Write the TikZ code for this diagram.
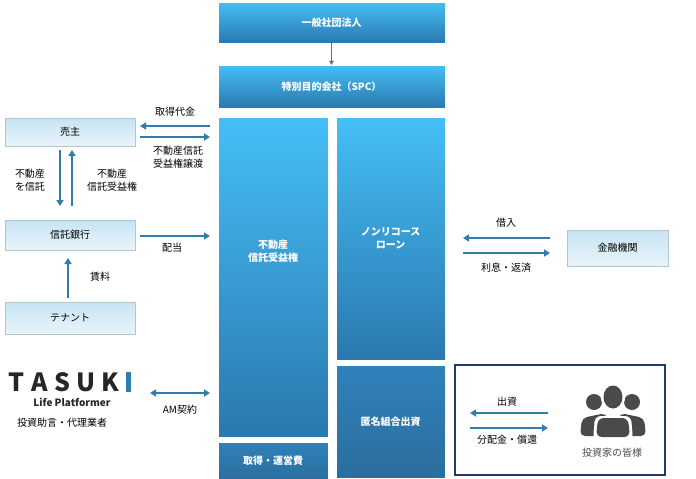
\documentclass[tikz,border=0pt]{standalone}
\usepackage{fontspec}
\setmainfont{Noto Sans CJK JP}
\usetikzlibrary{arrows.meta}
\definecolor{topb}{HTML}{45BFF6}
\definecolor{botb}{HTML}{2A78AE}
\definecolor{darkb}{HTML}{2B6E9E}
\definecolor{midb}{HTML}{2F82BA}
\definecolor{arr}{HTML}{2E7CB0}
\definecolor{lite}{HTML}{C7E4F3}
\definecolor{navy}{HTML}{1F3A6E}
\definecolor{ppl}{HTML}{4A4A4A}
\tikzset{
 bigbox/.style={draw=white,top color=topb,bottom color=botb,text=white,font=\bfseries\fontsize{10}{13}\selectfont,align=center,inner sep=0pt},
 darkbox/.style={bigbox,top color=midb,bottom color=darkb},
 smallbox/.style={draw=lite!70!gray,top color=lite,bottom color=lite!40,font=\fontsize{10}{12}\selectfont,inner sep=0pt},
 lbl/.style={font=\fontsize{10}{13}\selectfont,align=center},
 ar/.style={arr,line width=1.8pt,-{Triangle[length=6pt,width=7pt]}},
}
\begin{document}
\begin{tikzpicture}[x=1pt,y=-1pt]
\useasboundingbox (0,0) rectangle (696,479);
% central boxes
\node[bigbox,minimum width=227,minimum height=41] (ippan) at (331.5,22.5) {一般社団法人};
\node[bigbox,minimum width=227,minimum height=43] (spc) at (331.5,86.5) {特別目的会社（SPC）};
\node[bigbox,minimum width=110,minimum height=320,text depth=0pt] (jueki) at (273,277) {};
\node[text=white,font=\bfseries\fontsize{10}{13}\selectfont,align=center] (juekit) at (273,251) {不動産\\信託受益権};
\node[darkbox,minimum width=110,minimum height=37] (unei) at (273,460.5) {取得・運営費};
\node[bigbox,minimum width=109,minimum height=243] (loan) at (390.5,238.5) {ノンリコース\\ローン};
\node[darkbox,minimum width=109,minimum height=113] (tokumei) at (390.5,421.5) {匿名組合出資};
\draw[ppl!80,line width=0.6pt,-{Triangle[length=4pt,width=5pt]}] (ippan.south) -- (spc.north);
% left boxes
\node[smallbox,minimum width=130,minimum height=28] (uri) at (70,132) {売主};
\node[smallbox,minimum width=130,minimum height=30] (shin) at (70,235) {信託銀行};
\node[smallbox,minimum width=130,minimum height=32] (ten) at (70,318) {テナント};
\node[smallbox,minimum width=101,minimum height=36] (kin) at (617.5,248) {金融機関};
% arrows left top
\coordinate (a1) at (210,126); \coordinate (a2) at (140,126);
\draw[ar] (a1) -- (a2);
\coordinate (b1) at (140,137); \coordinate (b2) at (210,137);
\draw[ar] (b1) -- (b2);
\node[lbl] (l1) at (175,112) {取得代金};
\node[lbl] (l2) at (178,157) {不動産信託\\受益権譲渡};
\coordinate (c1) at (60,150); \coordinate (c2) at (60,206);
\draw[ar] (c1) -- (c2);
\coordinate (d1) at (72,206); \coordinate (d2) at (72,150);
\draw[ar] (d1) -- (d2);
\node[lbl] (l3) at (30,180) {不動産\\を信託};
\node[lbl] (l4) at (112,180) {不動産\\信託受益権};
\coordinate (e1) at (68,298); \coordinate (e2) at (68,258);
\draw[ar] (e1) -- (e2);
\node[lbl] (l5) at (100,277) {賃料};
\coordinate (f1) at (140,236); \coordinate (f2) at (210,236);
\draw[ar] (f1) -- (f2);
\node[lbl] (l6) at (172,248) {配当};
\coordinate (g1) at (150,393); \coordinate (g2) at (210,393);
\draw[arr,line width=1.8pt,{Triangle[length=6pt,width=7pt]}-{Triangle[length=6pt,width=7pt]}] (g1) -- (g2);
\node[lbl] (l7) at (180,410) {AM契約};
% right arrows
\coordinate (h1) at (550,238); \coordinate (h2) at (463,238);
\draw[ar] (h1) -- (h2);
\coordinate (i1) at (463,253); \coordinate (i2) at (550,253);
\draw[ar] (i1) -- (i2);
\node[lbl] (l8) at (506,223) {借入};
\node[lbl] (l9) at (506,268) {利息・返済};
% investors
\node[draw=navy,line width=1.4pt,minimum width=210,minimum height=110,inner sep=0pt] (inv) at (560,420) {};
\coordinate (j1) at (548,413); \coordinate (j2) at (470,413);
\draw[ar] (j1) -- (j2);
\coordinate (k1) at (470,428); \coordinate (k2) at (548,428);
\draw[ar] (k1) -- (k2);
\node[lbl] (l10) at (507,402) {出資};
\node[lbl] (l11) at (507,440) {分配金・償還};
\node[lbl,text=ppl] (l12) at (612,453) {投資家の皆様};
% people icon
\fill[ppl] (594,402) circle (8);
\fill[ppl] (632,402) circle (8);
\fill[ppl,rounded corners=5] (580,436) -- (582,418) -- (606,413) -- (612,436) -- cycle;
\fill[ppl,rounded corners=5] (614,436) -- (620,413) -- (644,418) -- (646,436) -- cycle;
\fill[white] (613,397) ellipse (12 and 14);
\fill[white,rounded corners=6] (593,440) -- (595,416) -- (631,416) -- (633,440) -- cycle;
\fill[ppl] (613,397) ellipse (9.5 and 11.5);
\fill[ppl,rounded corners=6] (596,437) -- (598,418) -- (628,418) -- (630,437) -- cycle;
% TASUKI logo
\node[font=\bfseries\fontsize{25}{27}\selectfont,text=black!85,inner sep=0pt,anchor=west] (logo) at (8,382) {T\hspace{7pt}A\hspace{7pt}S\hspace{6pt}U\hspace{6pt}K};
\fill[arr] (126,372) rectangle (131,392);
\node[font=\bfseries\fontsize{10}{12}\selectfont,text=black!85] (lp) at (72,402) {Life Platformer};
\node[lbl] (l13) at (62,423) {投資助言・代理業者};
\end{tikzpicture}
\end{document}
